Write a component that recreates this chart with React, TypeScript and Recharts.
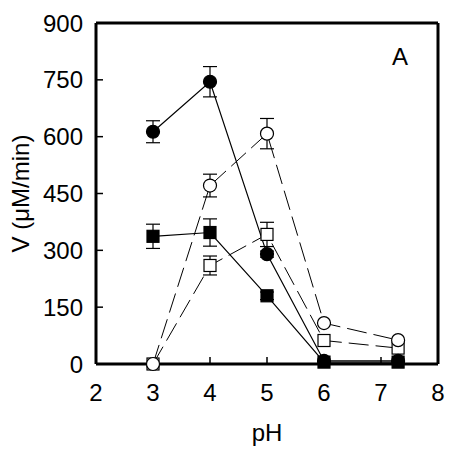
import { LineChart, Line, XAxis, YAxis, ErrorBar, ReferenceLine, Label } from 'recharts';

const phValues = [3, 4, 5, 6, 7.3];
const filledCircle = [613, 745, 290, 8, 8];
const filledCircleErr = [29, 40, 8, 0, 0];
const openCircle = [0, 471, 608, 108, 63];
const openCircleErr = [0, 30, 40, 0, 0];
const filledSquare = [337, 347, 180, 5, 5];
const filledSquareErr = [32, 36, 10, 0, 0];
const openSquare = [0, 260, 342, 62, 42];
const openSquareErr = [0, 25, 32, 0, 0];
const xTicks = [2, 3, 4, 5, 6, 7, 8];
const yTicks = [0, 150, 300, 450, 600, 750, 900];

const data = phValues.map((ph, i) => ({
  ph,
  fc: filledCircle[i],
  fcErr: filledCircleErr[i],
  oc: openCircle[i],
  ocErr: openCircleErr[i],
  fs: filledSquare[i],
  fsErr: filledSquareErr[i],
  os: openSquare[i],
  osErr: openSquareErr[i],
}));

const font = 'Liberation Sans, Arial, sans-serif';

const SquareDot = ({ cx, cy, fill }: any) => {
  if (cx == null || cy == null) return null;
  return <rect x={cx - 6} y={cy - 6} width={12} height={12} fill={fill} stroke="#000" strokeWidth={1.2} />;
};

const CircleDot = ({ cx, cy, fill }: any) => {
  if (cx == null || cy == null) return null;
  return <circle cx={cx} cy={cy} r={6.5} fill={fill} stroke="#000" strokeWidth={1.2} />;
};

export default function App() {
  return (
    <div style={{ position: 'absolute', left: 0, top: 0, background: '#fff' }}>
      <LineChart width={454} height={455} data={data} margin={{ top: 23, right: 16, bottom: 0, left: 0 }}>
        <XAxis
          dataKey="ph"
          type="number"
          domain={[2, 8]}
          ticks={xTicks}
          height={91}
          stroke="#000"
          axisLine={{ strokeWidth: 3 }}
          tickLine={{ strokeWidth: 1.5 }}
          tickSize={-7}
          tickMargin={27}
          tick={{ fill: '#000', fontSize: 24, fontFamily: font }}
        >
          <Label value="pH" position="insideBottom" offset={14} style={{ fill: '#000', fontSize: 24, fontFamily: font }} />
        </XAxis>
        <YAxis
          type="number"
          domain={[0, 900]}
          ticks={yTicks}
          width={96}
          stroke="#000"
          axisLine={{ strokeWidth: 3 }}
          tickLine={{ strokeWidth: 1.5 }}
          tickSize={-7}
          tickMargin={20}
          tick={{ fill: '#000', fontSize: 24, fontFamily: font }}
        >
          <Label
            value="V (μM/min)"
            angle={-90}
            position="insideLeft"
            offset={20}
            style={{ textAnchor: 'middle', fill: '#000', fontSize: 24, fontFamily: font }}
          />
        </YAxis>
        <ReferenceLine y={900} stroke="#000" strokeWidth={3} />
        <ReferenceLine x={8} stroke="#000" strokeWidth={3}>
          <Label value="A" position="insideTopRight" offset={0} dx={-30} dy={25} style={{ fill: '#000', fontSize: 24, fontFamily: font }} />
        </ReferenceLine>
        <Line dataKey="os" stroke="#000" strokeWidth={1} strokeDasharray="20 7" dot={<SquareDot fill="#fff" />} isAnimationActive={false}>
          <ErrorBar dataKey="osErr" width={7} stroke="#000" strokeWidth={1.2} />
        </Line>
        <Line dataKey="oc" stroke="#000" strokeWidth={1} strokeDasharray="20 7" dot={<CircleDot fill="#fff" />} isAnimationActive={false}>
          <ErrorBar dataKey="ocErr" width={7} stroke="#000" strokeWidth={1.2} />
        </Line>
        <Line dataKey="fs" stroke="#000" strokeWidth={1.2} dot={<SquareDot fill="#000" />} isAnimationActive={false}>
          <ErrorBar dataKey="fsErr" width={7} stroke="#000" strokeWidth={1.2} />
        </Line>
        <Line dataKey="fc" stroke="#000" strokeWidth={1.2} dot={<CircleDot fill="#000" />} isAnimationActive={false}>
          <ErrorBar dataKey="fcErr" width={7} stroke="#000" strokeWidth={1.2} />
        </Line>
      </LineChart>
    </div>
  );
}
